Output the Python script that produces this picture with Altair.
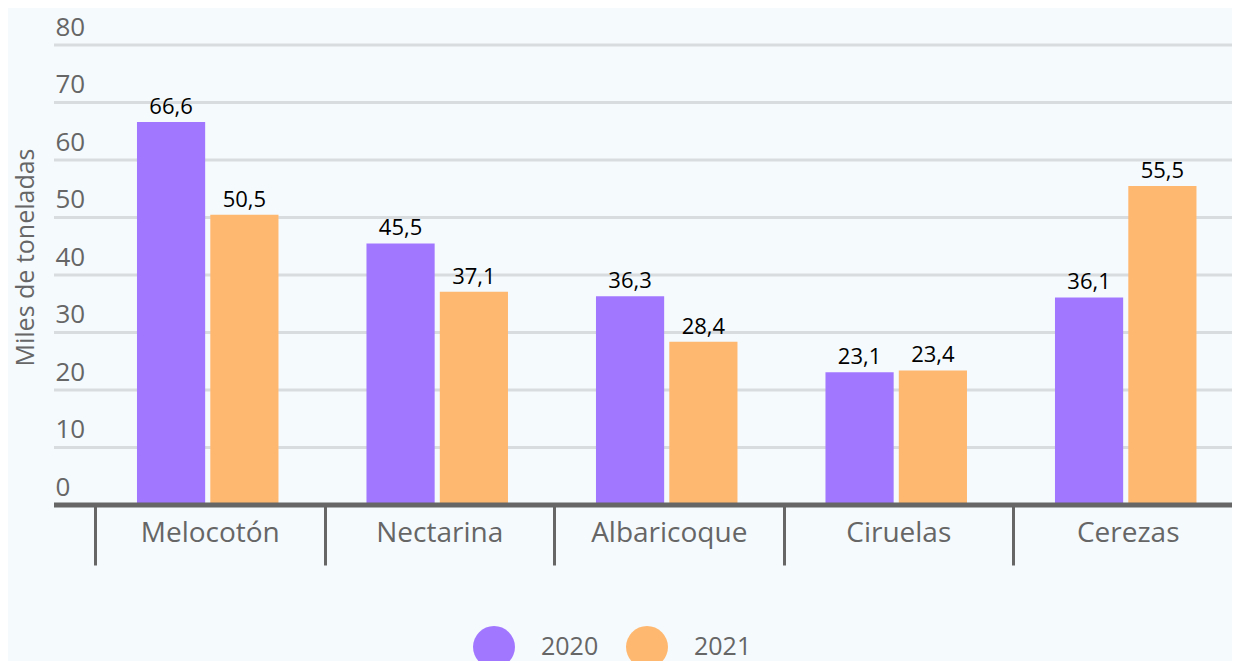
import altair as alt
import pandas as pd

categories = ["Melocotón", "Nectarina", "Albaricoque", "Ciruelas", "Cerezas"]
years = ["2020", "2021"]
values_2020 = [66.6, 45.5, 36.3, 23.1, 36.1]
values_2021 = [50.5, 37.1, 28.4, 23.4, 55.5]
y_ticks = [0, 10, 20, 30, 40, 50, 60, 70, 80]
colors = ["#a277ff", "#ffb870"]

rows = []
for c, a, b in zip(categories, values_2020, values_2021):
    rows.append({"cat": c, "year": "2020", "v": a})
    rows.append({"cat": c, "year": "2021", "v": b})
df = pd.DataFrame(rows)
grid_df = pd.DataFrame({"v": y_ticks[1:]})
zero_df = pd.DataFrame({"v": [0]})

W = 1137
H = 460
STEP = 229.5
FONT = "Open Sans"
GREY = "#666666"

yscale = alt.Scale(domain=[0, 80])
yaxis = alt.Axis(
    values=y_ticks,
    title="Miles de toneladas",
    titleFont=FONT,
    titleFontSize=25,
    titleFontWeight="normal",
    titleColor=GREY,
    titleX=-62,
    titleY=212,
    titleAngle=-90,
    titleAlign="center",
    titleBaseline="alphabetic",
    domain=False,
    ticks=False,
    tickSize=0,
    grid=False,
    labelAlign="left",
    labelPadding=40,
    labelBaseline="alphabetic",
    labelOffset=-10,
    labelFont=FONT,
    labelFontSize=26,
    labelColor=GREY,
)
xaxis = alt.Axis(
    title=None,
    labelAngle=0,
    tickBand="extent",
    tickSize=60,
    tickWidth=3,
    tickColor=GREY,
    domain=False,
    labelPadding=-32,
    labelBaseline="middle",
    labelAlign="center",
    labelFontSize=28,
    labelFont=FONT,
    labelColor=GREY,
)
xscale = alt.Scale(paddingInner=0, paddingOuter=0, range=[0, STEP * len(categories)])
offscale = alt.Scale(paddingInner=0.07, paddingOuter=0.6, align=0.477)

grid = alt.Chart(grid_df).mark_rule(color="#d9dcdf", strokeWidth=3).encode(
    y=alt.Y("v:Q", scale=yscale, axis=yaxis),
    x=alt.value(-41),
    x2=alt.value(W + 10),
)

base = alt.Chart(df)

bars = base.mark_bar().encode(
    x=alt.X("cat:N", sort=categories, scale=xscale, axis=xaxis),
    xOffset=alt.XOffset("year:N", scale=offscale),
    y=alt.Y("v:Q", scale=yscale, axis=yaxis),
    color=alt.Color(
        "year:N",
        scale=alt.Scale(domain=years, range=colors),
        legend=alt.Legend(
            title=None,
            orient="none",
            direction="horizontal",
            legendX=378,
            legendY=581,
            symbolType="circle",
            symbolSize=1764,
            symbolStrokeWidth=0,
            symbolOpacity=1,
            labelFont=FONT,
            labelFontSize=25,
            labelColor=GREY,
            labelOffset=26,
            columnPadding=27,
            padding=0,
        ),
    ),
)

labels = base.transform_calculate(
    lbl="replace(format(datum.v, '.1f'), '.', ',')"
).mark_text(baseline="bottom", dy=-3, font=FONT, fontSize=22, color="#000000").encode(
    x=alt.X("cat:N", sort=categories, scale=xscale, axis=xaxis),
    xOffset=alt.XOffset("year:N", scale=offscale),
    y=alt.Y("v:Q", scale=yscale, axis=yaxis),
    text="lbl:N",
)

baseline = alt.Chart(zero_df).mark_rule(color=GREY, strokeWidth=5).encode(
    y=alt.Y("v:Q", scale=yscale, axis=yaxis),
    x=alt.value(-41),
    x2=alt.value(W + 10),
)

chart = alt.layer(grid, bars, labels, baseline).properties(
    width=W,
    height=H,
    background="#f5fafd",
    padding={"left": 87, "top": 37, "right": 0, "bottom": 156},
    autosize=alt.AutoSizeParams(type="none"),
).configure_view(stroke=None)

chart.save("out.html", embed_options={"renderer": "svg", "actions": False})
